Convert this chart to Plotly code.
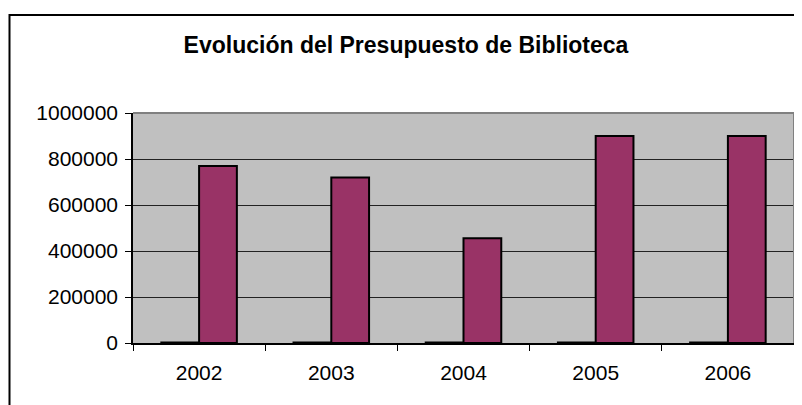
import plotly.graph_objects as go

years = ["2002", "2003", "2004", "2005", "2006"]
serie_anio = [2002, 2003, 2004, 2005, 2006]
presupuesto = [770000, 720000, 455000, 900000, 900000]
y_ticks = [0, 200000, 400000, 600000, 800000, 1000000]
title_text = "Evolución del Presupuesto de Biblioteca"

# page body has an 8px margin, so figure coords = page coords - 8
OFF = 8
W, H = 802, 405
ML, MT = 133 - OFF, 113 - OFF
PLOT_R, PLOT_B = 794 - OFF, 343 - OFF
MR, MB = W - PLOT_R, H - PLOT_B
PW = W - ML - MR
PH = H - MT - MB

def px2x(px):
    return (px - OFF - ML) / PW

def py2y(py):
    return (PLOT_B - (py - OFF)) / PH

fig = go.Figure()
fig.add_trace(go.Bar(x=years, y=serie_anio, name="Año",
                     marker=dict(color="#9999FF", line=dict(color="black", width=2))))
fig.add_trace(go.Bar(x=years, y=presupuesto, name="Presupuesto",
                     marker=dict(color="#993366", line=dict(color="black", width=2))))

fig.update_layout(
    width=W, height=H,
    margin=dict(l=ML, r=MR, t=MT, b=MB),
    paper_bgcolor="white",
    plot_bgcolor="#C0C0C0",
    barmode="group",
    bargap=1.5 / 3.5,
    bargroupgap=0,
    showlegend=False,
    font=dict(family="Liberation Sans, Arial, sans-serif", size=21, color="black"),
    title=dict(text="<b>" + title_text + "</b>", x=(406 - OFF) / W, xanchor="center",
               y=1 - (45 - OFF) / H, yanchor="middle", yref="container",
               font=dict(size=23, color="black")),
    xaxis=dict(type="category", showgrid=False, tickson="boundaries",
               ticks="outside", ticklen=6, tickcolor="black", tickwidth=1,
               showline=True, linecolor="black", linewidth=1.5,
               range=[-0.5, 4.5], ticklabelstandoff=10),
    yaxis=dict(range=[0, 1000000], tickvals=y_ticks, tickformat="d",
               showgrid=True, gridcolor="#222222", gridwidth=1,
               ticks="outside", ticklen=6, tickcolor="black", tickwidth=1,
               showline=True, linecolor="black", linewidth=1.5,
               zeroline=False, ticklabelstandoff=3),
    shapes=[
        dict(type="line", xref="paper", yref="paper", x0=0, x1=1, y0=1, y1=1,
             line=dict(color="#808080", width=2), layer="above"),
        dict(type="line", xref="paper", yref="paper", x0=1, x1=1, y0=0, y1=1,
             line=dict(color="#808080", width=2), layer="above"),
        dict(type="rect", xref="paper", yref="paper",
             x0=px2x(9.5), x1=px2x(830), y0=py2y(430), y1=py2y(15),
             line=dict(color="black", width=2), fillcolor="rgba(0,0,0,0)",
             layer="above"),
    ],
)

fig.write_html("out.html")
